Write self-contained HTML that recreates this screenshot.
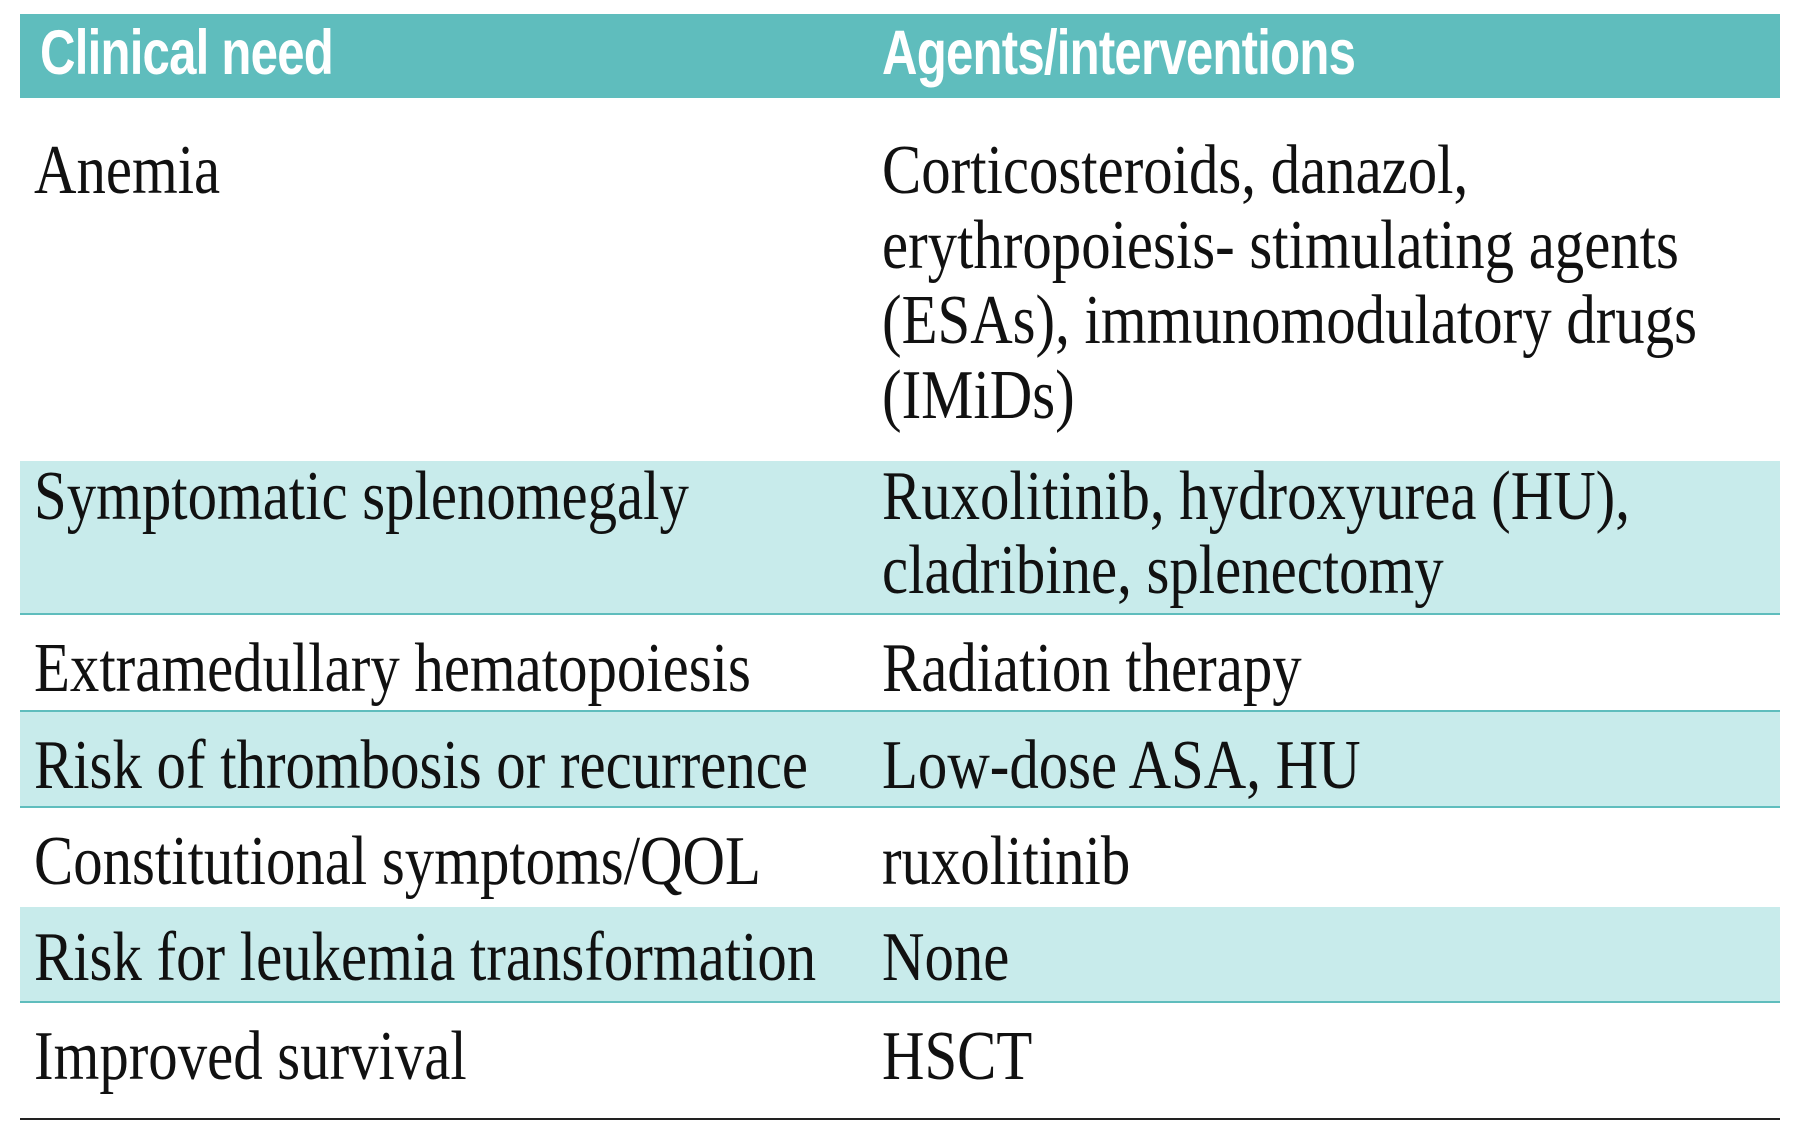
<!DOCTYPE html>
<html><head><meta charset="utf-8"><style>
html,body{margin:0;padding:0;background:#fff;}
body{width:1800px;height:1143px;position:relative;overflow:hidden;}
.bar{position:absolute;left:20px;width:1760px;}
.t{position:absolute;white-space:nowrap;font-family:"Liberation Serif",serif;font-size:70px;line-height:1;color:#111;transform:scaleX(0.84);transform-origin:0 0;}
.h{position:absolute;white-space:nowrap;font-family:"Liberation Sans",sans-serif;font-weight:bold;font-size:63px;line-height:1;color:#fff;transform:scaleX(0.78);transform-origin:0 0;letter-spacing:-1px;}
.ln{position:absolute;left:20px;width:1760px;height:2px;background:#5fbdbd;}
</style></head><body>
<div class="bar" style="top:14px;height:84px;background:#5fbdbd"></div>
<div class="h" style="left:40px;top:22px">Clinical need</div>
<div class="h" style="left:882px;top:22px">Agents/interventions</div>

<div class="bar" style="top:461px;height:153px;background:#c8ebeb"></div>
<div class="ln" style="top:613px"></div>
<div class="bar" style="top:712px;height:95px;background:#c8ebeb"></div>
<div class="ln" style="top:710px"></div>
<div class="ln" style="top:806px"></div>
<div class="bar" style="top:907px;height:95px;background:#c8ebeb"></div>
<div class="ln" style="top:1001px"></div>
<div style="position:absolute;left:20px;top:1118px;width:1760px;height:2px;background:#222"></div>

<div class="t" style="left:34px;top:136px">Anemia</div>
<div class="t" style="left:882px;top:136px">Corticosteroids, danazol,</div>
<div class="t" style="left:882px;top:211px">erythropoiesis- stimulating agents</div>
<div class="t" style="left:882px;top:286px">(ESAs), immunomodulatory drugs</div>
<div class="t" style="left:882px;top:361px">(IMiDs)</div>

<div class="t" style="left:34px;top:462px">Symptomatic splenomegaly</div>
<div class="t" style="left:882px;top:462px">Ruxolitinib, hydroxyurea (HU),</div>
<div class="t" style="left:882px;top:536px">cladribine, splenectomy</div>

<div class="t" style="left:34px;top:634px">Extramedullary hematopoiesis</div>
<div class="t" style="left:882px;top:634px">Radiation therapy</div>

<div class="t" style="left:34px;top:731px">Risk of thrombosis or recurrence</div>
<div class="t" style="left:882px;top:731px">Low-dose ASA, HU</div>

<div class="t" style="left:34px;top:827px">Constitutional symptoms/QOL</div>
<div class="t" style="left:882px;top:827px">ruxolitinib</div>

<div class="t" style="left:34px;top:923px">Risk for leukemia transformation</div>
<div class="t" style="left:882px;top:923px">None</div>

<div class="t" style="left:34px;top:1022px">Improved survival</div>
<div class="t" style="left:882px;top:1022px">HSCT</div>
</body></html>
